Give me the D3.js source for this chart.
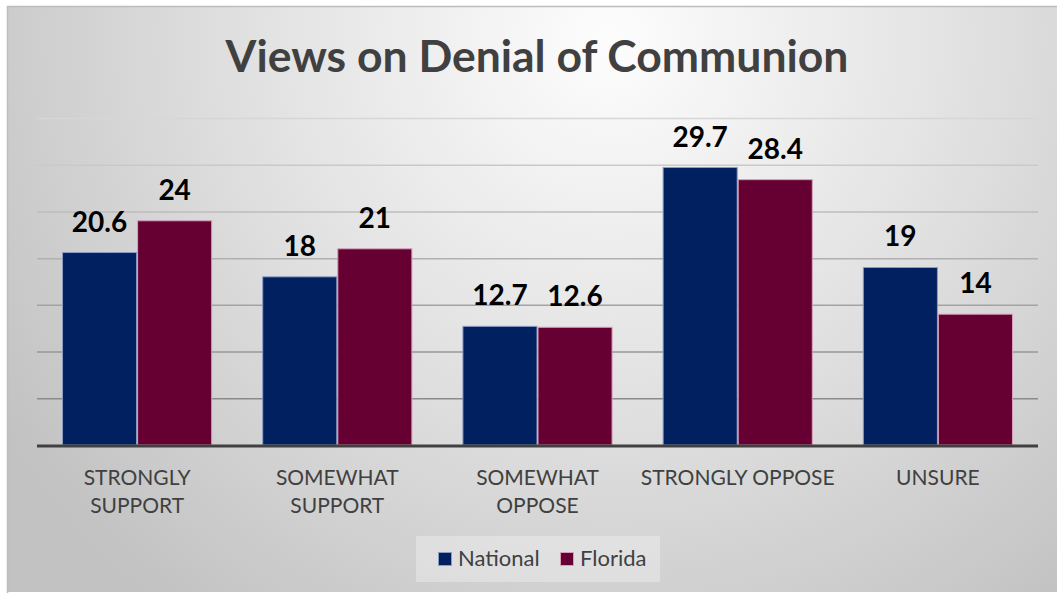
<!DOCTYPE html>
<html>
<head>
<meta charset="utf-8">
<script src="https://cdn.jsdelivr.net/npm/d3@7"></script>
<style>
  html, body { margin: 0; padding: 0; background: #fff; }
  svg { display: block; }
</style>
</head>
<body>
<div id="chart"></div>
<script>
// Survey results: share of respondents (%) by view
const categories = [["STRONGLY", "SUPPORT"], ["SOMEWHAT", "SUPPORT"], ["SOMEWHAT", "OPPOSE"], ["STRONGLY OPPOSE"], ["UNSURE"]];
const seriesNames = ["National", "Florida"];
const nationalValues = [20.6, 18, 12.7, 29.7, 19];
const floridaValues = [24, 21, 12.6, 28.4, 14];
const valueLabels = [["20.6", "18", "12.7", "29.7", "19"], ["24", "21", "12.6", "28.4", "14"]];
const gridTicks = [5, 10, 15, 20, 25, 30, 35];
const titleText = "Views on Denial of Communion";

const W = 1057, H = 593;
const fillColors = ["#002060", "#660033"];
const edgeColors = ["#8b9cc4", "#d6a0b8"];
const FONT = "Lato, 'Open Sans', sans-serif";

const svg = d3.select("#chart").append("svg").attr("width", W).attr("height", H);
const defs = svg.append("defs");

const bg = defs.append("radialGradient").attr("id", "bg")
  .attr("gradientUnits", "userSpaceOnUse")
  .attr("cx", 610).attr("cy", 40).attr("r", 720);
bg.append("stop").attr("offset", "0%").attr("stop-color", "#fdfdfd");
bg.append("stop").attr("offset", "45%").attr("stop-color", "#e4e4e4");
bg.append("stop").attr("offset", "100%").attr("stop-color", "#c2c2c2");

// chart frame
svg.append("rect").attr("x", 7).attr("y", 6).attr("width", W - 7).attr("height", H - 7)
  .attr("fill", "url(#bg)");
svg.append("path").attr("d", `M7.5,${H} V6.5 H${W}`).attr("fill", "none")
  .attr("stroke", "#bdbdbd").attr("stroke-width", 1.5);

const plot = { left: 37, right: 1038, top: 118, bottom: 445 };

const x0 = d3.scaleBand().domain(d3.range(categories.length))
  .range([plot.left, plot.right]).paddingInner(0.25).paddingOuter(0.125);
const x1 = d3.scaleBand().domain(d3.range(seriesNames.length))
  .range([0, x0.bandwidth()]).padding(0);
const y = d3.scaleLinear().domain([0, 35]).range([plot.bottom, plot.top]);

// gridlines, fading lighter toward the top
const gridColor = d3.scaleLinear().domain([5, 35]).range(["#8a8a8a", "#d6d6d6"]);
svg.append("g").selectAll("line").data(gridTicks).join("line")
  .attr("x1", plot.left).attr("x2", plot.right)
  .attr("y1", d => y(d) + 0.5).attr("y2", d => y(d) + 0.5)
  .attr("stroke", d => gridColor(d)).attr("stroke-width", 1.5);

// title
const title = svg.append("text").attr("x", 537).attr("y", 72)
  .attr("text-anchor", "middle").attr("font-family", FONT).attr("font-weight", 700)
  .attr("font-size", 44).attr("fill", "#404040").text(titleText);
const tw = title.node().getComputedTextLength();
title.attr("font-size", 44 * 623 / tw);

// bars
const series = [nationalValues, floridaValues];
const groups = svg.append("g").selectAll("g").data(categories).join("g")
  .attr("transform", (d, i) => `translate(${x0(i)},0)`);

groups.selectAll("rect").data((d, i) => series.map((s, k) => ({ k, v: s[i] })))
  .join("rect")
  .attr("x", d => x1(d.k) + 0.5)
  .attr("width", x1.bandwidth() - 1)
  .attr("y", d => y(d.v))
  .attr("height", d => y(0) - y(d.v))
  .attr("fill", d => fillColors[d.k])
  .attr("stroke", d => edgeColors[d.k]).attr("stroke-width", 1);

// value labels
groups.selectAll("text.val").data((d, i) => series.map((s, k) => ({ k, v: s[i], t: valueLabels[k][i] })))
  .join("text").attr("class", "val")
  .attr("x", d => x1(d.k) + x1.bandwidth() / 2)
  .attr("y", d => y(d.v) - 21)
  .attr("text-anchor", "middle").attr("font-family", FONT).attr("font-weight", 700)
  .attr("font-size", 28).attr("fill", "#000").text(d => d.t);

// baseline axis
svg.append("line").attr("x1", plot.left).attr("x2", plot.right)
  .attr("y1", y(0) + 1).attr("y2", y(0) + 1)
  .attr("stroke", "#404040").attr("stroke-width", 3);

// category labels
const catLabels = svg.append("g").selectAll("text").data(categories).join("text")
  .attr("text-anchor", "middle").attr("font-family", FONT).attr("font-size", 21)
  .attr("fill", "#404040");
catLabels.selectAll("tspan").data((d, i) => d.map(line => ({ line, i })))
  .join("tspan")
  .attr("x", d => x0(d.i) + x0.bandwidth() / 2)
  .attr("y", (d, j) => 485 + j * 28)
  .text(d => d.line);

// legend
const legend = svg.append("g");
legend.append("rect").attr("x", 416).attr("y", 536).attr("width", 244).attr("height", 46)
  .attr("fill", "#ffffff").attr("fill-opacity", 0.3);
const legendX = [438, 560];
seriesNames.forEach((name, k) => {
  legend.append("rect").attr("x", legendX[k] + 0.5).attr("y", 552.5).attr("width", 13).attr("height", 13)
    .attr("fill", fillColors[k]).attr("stroke", edgeColors[k]).attr("stroke-width", 1);
  legend.append("text").attr("x", legendX[k] + 20).attr("y", 566)
    .attr("font-family", FONT).attr("font-size", 22).attr("fill", "#404040").text(name);
});
</script>
</body>
</html>
